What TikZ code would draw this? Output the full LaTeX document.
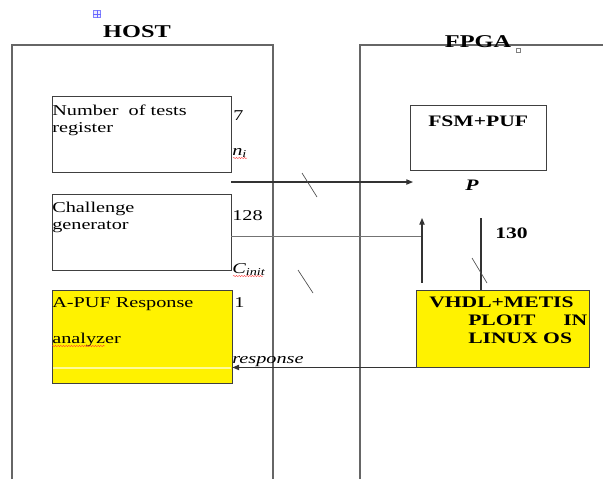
\documentclass[tikz,border=0pt]{standalone}
\usepackage{fontspec}
\setmainfont{Liberation Serif}[FakeStretch=1.35]
\usetikzlibrary{arrows.meta,decorations.pathmorphing,fit}
\begin{document}
\begin{tikzpicture}[x=0.75pt,y=-0.75pt]
\tikzset{
 frame/.style={draw=black!60, line width=1.1pt},
 box/.style={draw=black!75, line width=0.7pt, inner sep=0pt},
 ybox/.style={box, fill=yellow},
 lbl/.style={anchor=base west, inner sep=0pt, font=\fontsize{11.25}{13}\selectfont},
 blbl/.style={anchor=base west, inner sep=0pt, font=\fontsize{12}{14}\selectfont\bfseries},
 title/.style={anchor=base, inner sep=0pt, font=\fontsize{13.5}{15}\selectfont\bfseries},
 conn/.style={draw=black!80, line width=0.8pt},
 thin/.style={draw=black!55, line width=0.6pt},
 arr/.style={conn, -{Triangle[length=5pt,width=4pt]}},
 tick/.style={draw=black!70, line width=0.5pt},
 spell/.style={draw=red!80, line width=0.3pt, decorate, decoration={snake, amplitude=0.4pt, segment length=2pt}}
}
\useasboundingbox (0,0) rectangle (603,479);
\fill[white] (0,0) rectangle (603,479);
% frames
\draw[frame] (12,479) -- (12,45) -- (273,45) -- (273,479);
\draw[frame] (360,479) -- (360,45) -- (603,45);
\node[title] (host) at (137,37) {HOST};
\node[title] (fpga) at (478,47) {FPGA};
% small marks
\node[draw=blue!50, fill=blue!8, line width=0.3pt, minimum size=5pt, inner sep=0pt] (anchor) at (97,14) {};
\draw[blue!60, line width=0.4pt] (anchor.north) -- (anchor.south) (anchor.west) -- (anchor.east);
\node[draw=black!50, line width=0.3pt, minimum size=3pt, inner sep=0pt] (hdl) at (518,50) {};
% host boxes
\node[box, fit={(52,96) (231,172)}] (ntr) {};
\node[box, fit={(52,194) (231,270)}] (cg) {};
\node[ybox, fit={(52,290) (232,383)}] (apuf) {};
\draw[yellow!40!white, line width=0.8pt] (53,368) -- (231,368);
\node[lbl] (t1) at (52,115) {Number~ of tests};
\node[lbl] (t2) at (52,132) {register};
\node[lbl] (t3) at (52,212) {Challenge};
\node[lbl] (t4) at (52,229) {generator};
\node[lbl] (t5) at (52,307) {A-PUF Response};
\node[lbl] (t6) at (52,343) {analyzer};
% fpga boxes
\node[box, fit={(410,105) (546,170)}] (fsm) {};
\node[ybox, fit={(416,290) (589,367)}] (vhdl) {};
\node[blbl] (f1) at (428,126) {FSM+PUF};
\node[blbl] (v1) at (429,307) {VHDL+METIS};
\node[blbl] (v2) at (468,325) {PLOIT};
\node[blbl] (v3) at (563,325) {IN};
\node[blbl] (v4) at (468,343) {LINUX OS};
% labels
\node[lbl] (l7) at (233,120) {7};
\node[lbl] (lni) at (232,155) {\textit{n}\textsubscript{\textit{i}}};
\node[lbl] (l128) at (232,220) {128};
\node[lbl] (lc) at (232,273) {\textit{C}\textsubscript{\textit{init}}};
\node[lbl] (l1) at (234,307) {1};
\node[lbl] (lresp) at (232,363) {\textit{response}};
\node[blbl] (lp) at (465,190) {\textit{P}};
\node[blbl] (l130) at (495,238) {130};
% spell marks
\draw[spell] (233,158) -- (247,158);
\draw[spell] (233,276) -- (263,276);
\draw[spell] (52,346) -- (105,346);
% connectors
\coordinate (a1s) at (231,182);
\coordinate (a1e) at (413,182);
\draw[arr] (a1s) -- (a1e);
\coordinate (c1s) at (231,236);
\coordinate (c1e) at (422,236);
\draw[thin] (c1s) -- (c1e);
\coordinate (upe) at (422,218);
\draw[arr] (vhdl.north west -| upe) ++(0,-7) coordinate (ups) -- (upe);
\coordinate (v130t) at (481,218);
\draw[conn] (vhdl.north -| v130t) -- (v130t);
\draw[arr] (vhdl.south west) -- (vhdl.south west -| apuf.east);
% bus ticks
\draw[tick] (302,173) -- (317,197);
\draw[tick] (298,270) -- (313,293);
\draw[tick] (472,258) -- (487,283);
\end{tikzpicture}
\end{document}
